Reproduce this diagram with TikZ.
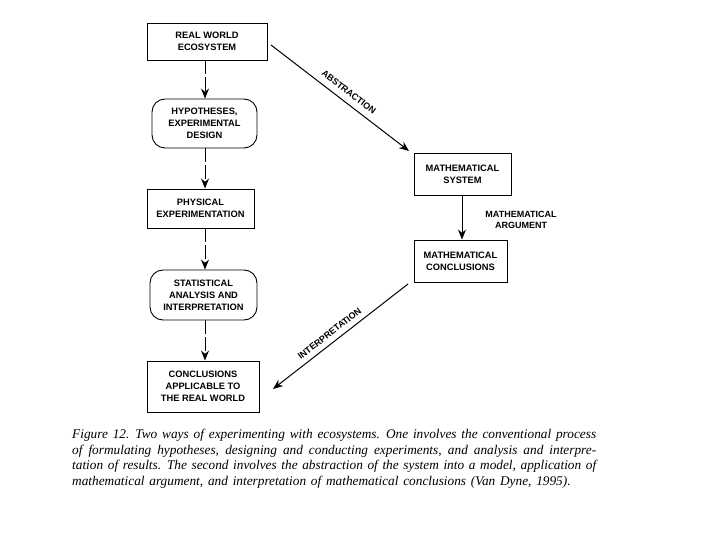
\documentclass[tikz,border=0pt]{standalone}
\usepackage{fontspec}
\setmainfont{Liberation Serif}
\setsansfont{Liberation Sans}
\usetikzlibrary{arrows.meta}
\newcommand{\capline}[1]{\makebox[524pt][s]{#1}}
\newcommand{\capsp}{\spaceskip=4.8pt plus 4pt minus 1pt\relax}
\begin{document}
\begin{tikzpicture}[x=1pt,y=-1pt,
  box/.style={draw,line width=0.9pt,font=\sffamily\bfseries\fontsize{9.3}{12}\selectfont,align=center,inner sep=0pt},
  rbox/.style={box,rounded corners=13pt},
  conn/.style={line width=1pt,-{Stealth[length=10pt,width=8pt]}},
  vconn/.style={conn,dash pattern=on 14pt off 3pt},
  lbl/.style={font=\sffamily\bfseries\fontsize{9}{11}\selectfont,align=center}]
\useasboundingbox (0,0) rectangle (720,540);
\node[box,minimum width=120pt,minimum height=37pt] (rw) at (207,41.5) {REAL WORLD\\ECOSYSTEM};
\node[rbox,minimum width=105pt,minimum height=49pt] (hy) at (204.5,123.5) {HYPOTHESES,\\EXPERIMENTAL\\DESIGN};
\node[box,minimum width=107pt,minimum height=39pt] (pe) at (200.5,208.5) {PHYSICAL\\EXPERIMENTATION};
\node[rbox,minimum width=107pt,minimum height=50pt] (sa) at (203.5,295) {STATISTICAL\\ANALYSIS AND\\INTERPRETATION};
\node[box,minimum width=112pt,minimum height=51pt] (co) at (203,386.5) {CONCLUSIONS\\APPLICABLE TO\\THE REAL WORLD};
\node[box,minimum width=97pt,minimum height=42pt] (ms) at (462.5,174) {MATHEMATICAL\\SYSTEM};
\node[box,minimum width=93pt,minimum height=42pt] (mc) at (460.5,261) {MATHEMATICAL\\CONCLUSIONS};
\draw[vconn] (rw.south -| 205,0) -- (hy.north -| 205,0);
\draw[vconn] (hy.south -| 205,0) -- (pe.north -| 205,0);
\draw[vconn] (pe.south -| 205,0) -- (sa.north -| 205,0);
\draw[vconn] (sa.south -| 205,0) -- (co.north -| 205,0);
\draw[conn] (ms.south -| 462,0) -- (mc.north -| 462,0);
\coordinate (a1) at (271,45);
\coordinate (a2) at (409,151);
\draw[conn] (a1) -- node[lbl,sloped,above=3pt,pos=0.52] {ABSTRACTION} (a2);
\coordinate (b1) at (408,284);
\coordinate (b2) at (273,389);
\draw[conn] (b1) -- node[lbl,sloped,above=2pt,pos=0.54] {INTERPRETATION} (b2);
\node[lbl] (ma) at (521,219.5) {MATHEMATICAL\\ARGUMENT};
\node[font=\itshape\fontsize{13.3}{15.6}\selectfont\capsp,align=left,inner sep=0pt,anchor=north west] (cap) at (72,429)
{\capline{Figure 12. Two ways of experimenting with ecosystems. One involves the conventional process}\\
\capline{of formulating hypotheses, designing and conducting experiments, and analysis and interpre-}\\
\capline{tation of results. The second involves the abstraction of the system into a model, application of}\\
mathematical argument, and interpretation of mathematical conclusions (Van Dyne, 1995).};
\end{tikzpicture}
\end{document}
